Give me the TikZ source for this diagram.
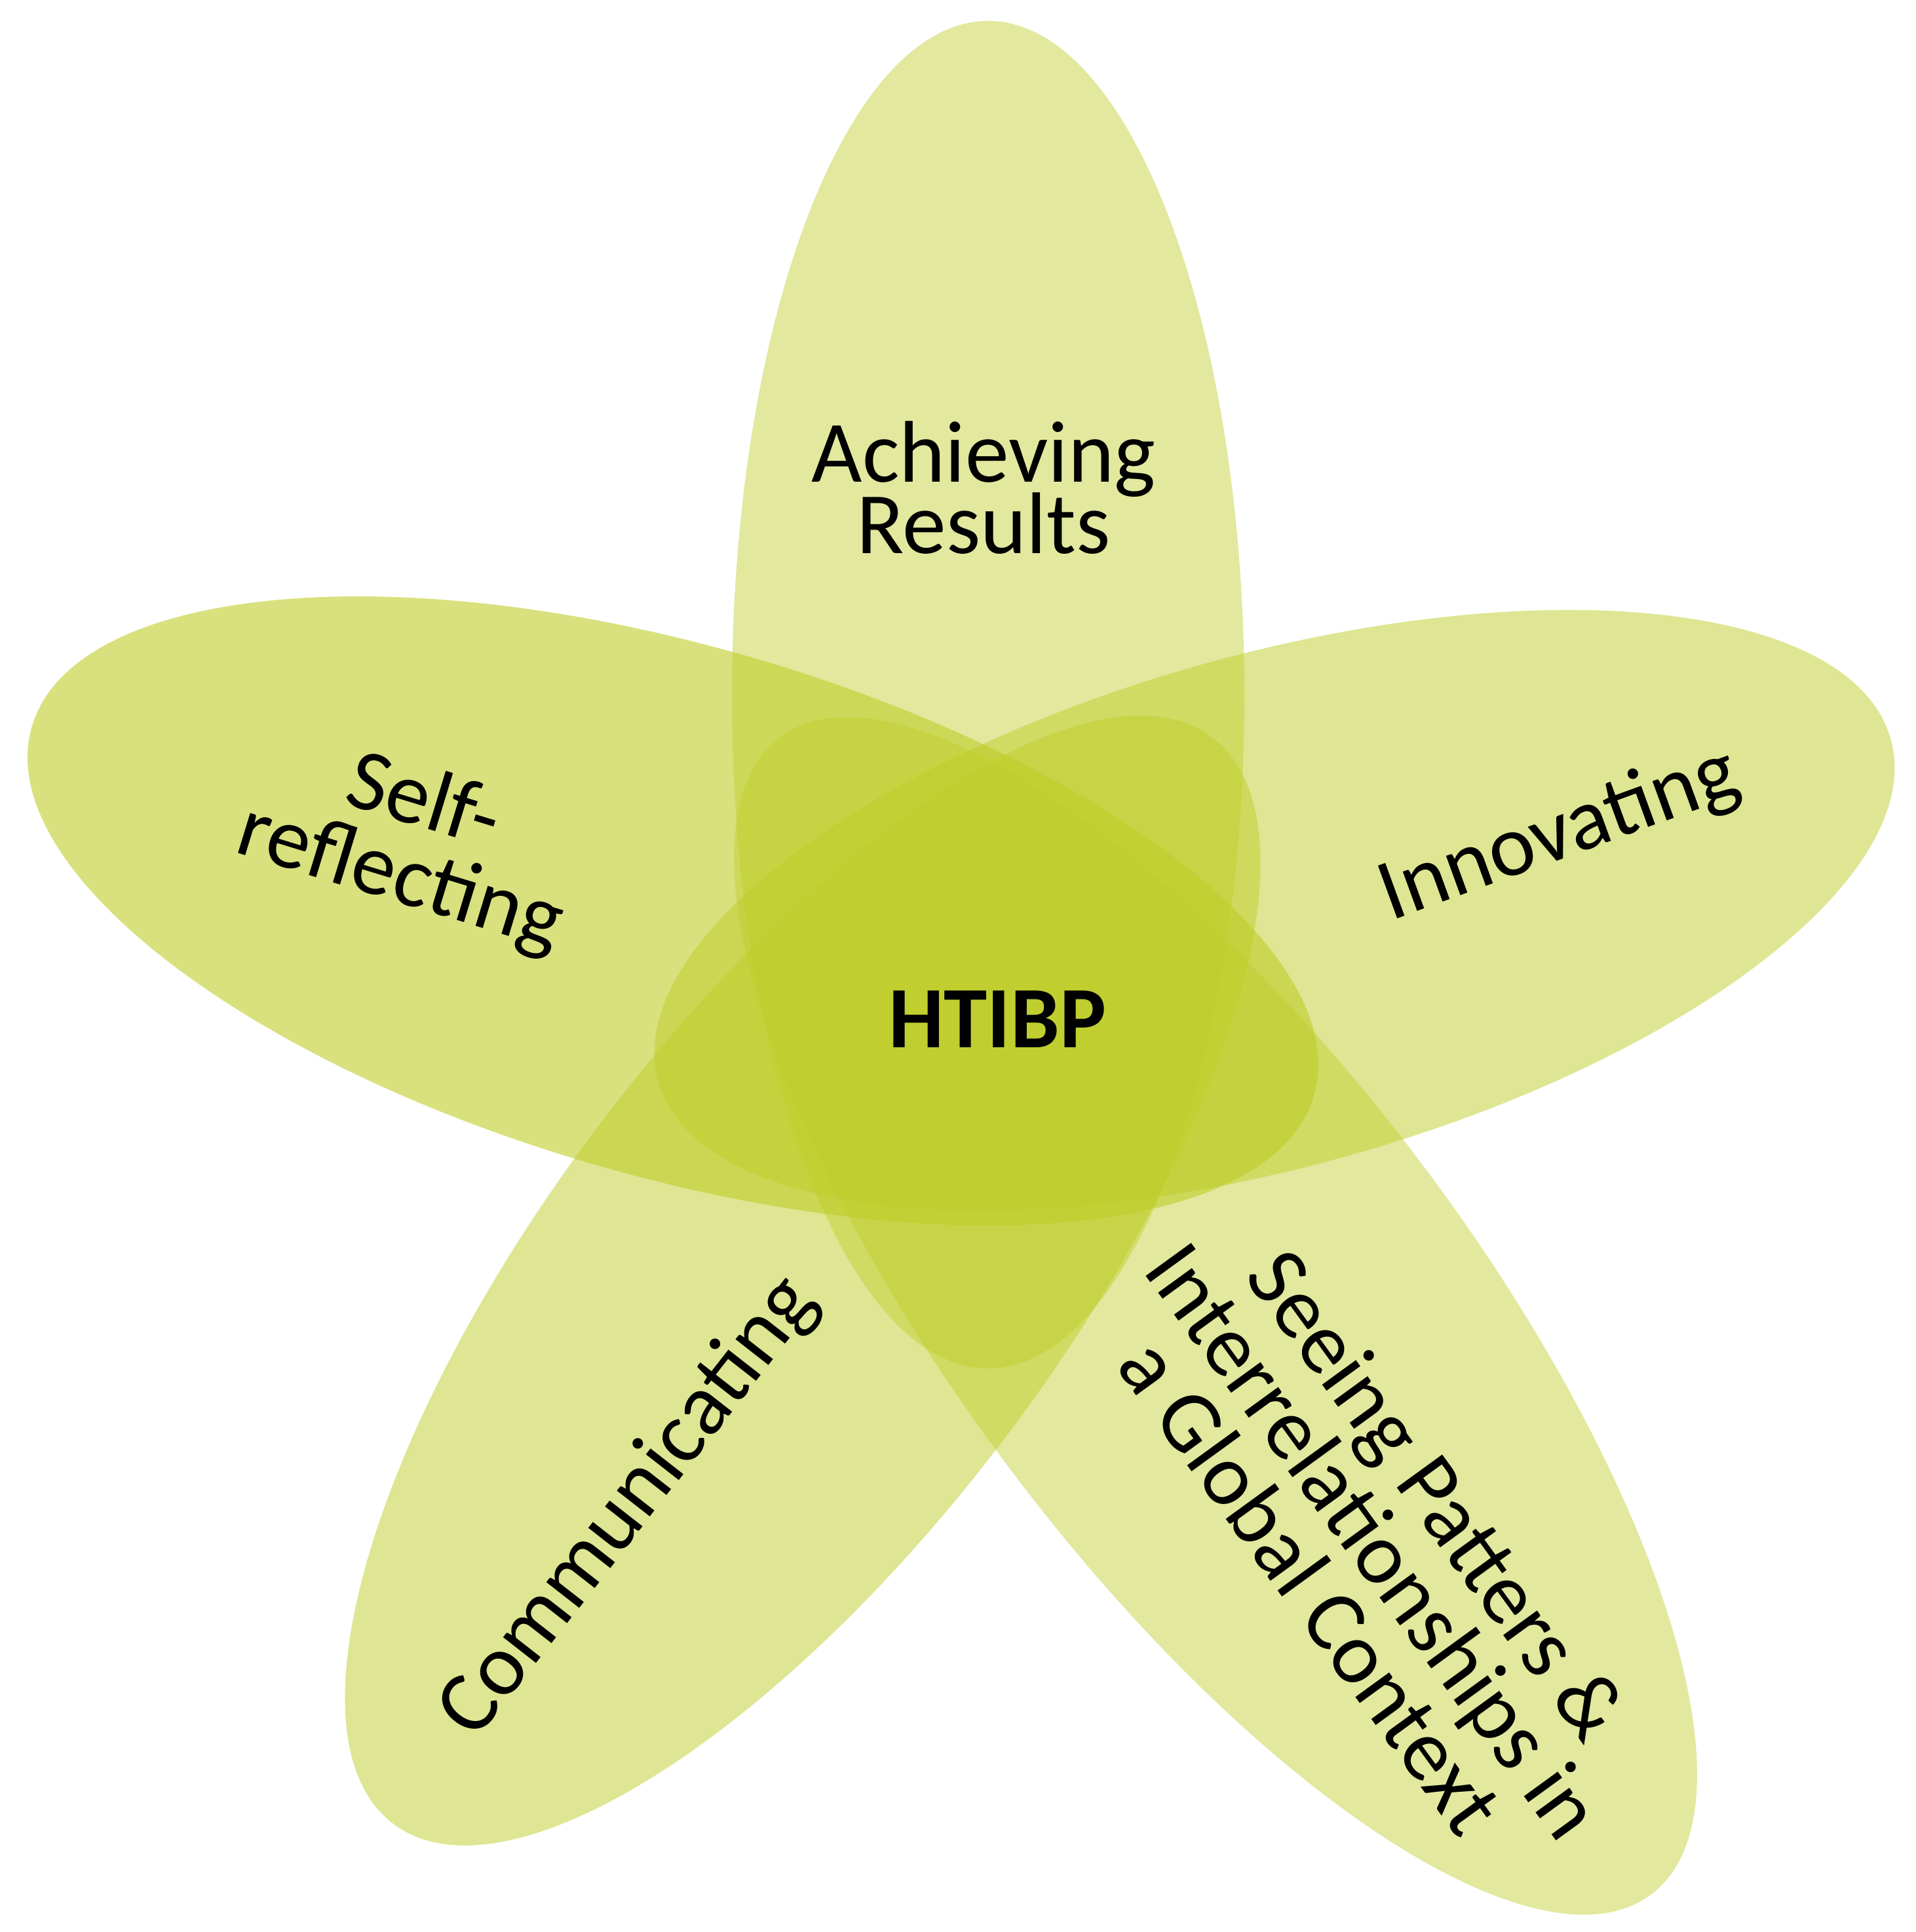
\documentclass[tikz,border=0pt]{standalone}
\usepackage{fontspec}
\setmainfont{Carlito}
\usepackage{tikz}
\definecolor{petalgreen}{RGB}{190,205,40}
\newcommand{\lblfont}{\fontsize{38}{31}\selectfont\lineskiplimit=-100pt\relax}
\newcommand{\tiltfont}{\fontsize{38}{34}\selectfont\lineskiplimit=-100pt\relax}

\begin{document}
\begin{tikzpicture}[petal/.style={fill=petalgreen, fill opacity=#1},
	lbl/.style={align=center, inner sep=0pt, font=\lblfont}]
	\useasboundingbox (0,0) rectangle (29.23,29.48);
	\fill[petal=0.45] (15.08,18.88) ellipse (3.91 and 10.28);
	\fill[petal=0.5, rotate around={15.5:(19.45,15.59)}] (19.45,15.59) ellipse (9.76 and 3.91);
	\fill[petal=0.6, rotate around={-16:(10.27,15.58)}] (10.27,15.58) ellipse (10.18 and 4.05);
	\fill[petal=0.5, rotate around={53:(12.25,9.94)}] (12.25,9.94) ellipse (10.38 and 3.91);
	\fill[petal=0.45, rotate around={-53:(18.55,9.40)}] (18.55,9.40) ellipse (11.05 and 3.91);
	\node[lbl] at (15.01,22.04)(achieving){Achieving\\Results};
	\node[lbl, font=\tiltfont, rotate=-17] at (6.28,16.64)(selfref){Self-\\reflecting};
	\node[lbl, rotate=20] at (23.80,16.73)(innovating){Innovating};
	\node[lbl, rotate=52] at (9.60,6.48)(communicating){Communicating};
	\node[lbl, font=\tiltfont, rotate=-54] at (20.98,5.98)(seeing){Seeing Patters \&\\Interrelationships in\\a Global Context};
	\node[lbl, font=\lblfont\bfseries] at (15.22,13.93)(htibp){HTIBP};
\end{tikzpicture}
\end{document}
